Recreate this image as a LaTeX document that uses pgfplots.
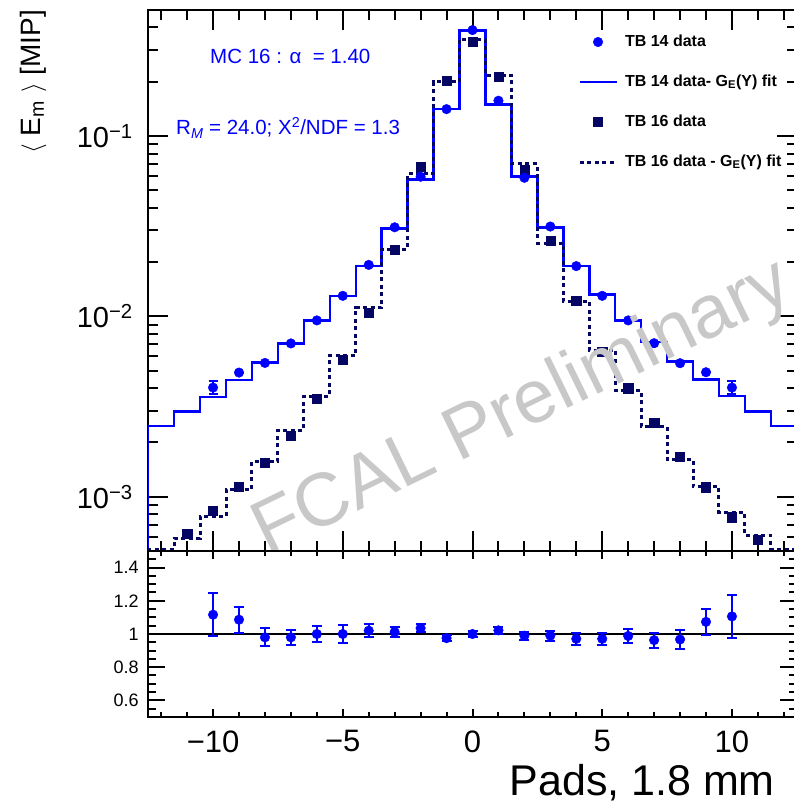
\documentclass[border=0pt]{standalone}
\usepackage{pgfplots}
\pgfplotsset{compat=1.18}
\usepackage{fontspec}
\setmainfont{Liberation Sans}
\definecolor{rblue}{RGB}{0,0,255}
\definecolor{rnavy}{RGB}{5,5,100}
\definecolor{wm}{RGB}{200,200,200}
\pgfplotsset{
  legline/.style={legend image code/.code={\path[draw=none,fill=none] (0pt,0pt) -- (37pt,0pt); \draw[##1] (0pt,0pt) -- (37pt,0pt);}},
  legmark/.style={legend image code/.code={\path[draw=none,fill=none] (0pt,0pt) -- (37pt,0pt); \draw[##1,only marks] plot coordinates {(18.5pt,0pt)};}},
}
\begin{document}
\begin{tikzpicture}
\useasboundingbox (0,0) rectangle (793pt,805pt);
% ---------------- upper panel ----------------
\begin{axis}[
  at={(148.2pt,254pt)}, anchor=south west,
  scale only axis, width=648.6pt, height=541pt,
  ymode=log, xmin=-12.5, xmax=12.5, ymin=5e-4, ymax=0.5,
  axis line style={line width=2pt},
  tick style={line width=2pt, black},
  tick align=inside,
  major tick length=20pt, minor tick length=10pt,
  xtick={-10,-5,0,5,10}, xticklabels={},
  minor xtick={-12,-11,-9,-8,-7,-6,-4,-3,-2,-1,1,2,3,4,6,7,8,9,11,12},
  ytick={1e-3,1e-2,1e-1},
  yticklabels={10\textsuperscript{−3},10\textsuperscript{−2},10\textsuperscript{−1}},
  minor ytick={6e-4,7e-4,8e-4,9e-4,2e-3,3e-3,4e-3,5e-3,6e-3,7e-3,8e-3,9e-3,0.02,0.03,0.04,0.05,0.06,0.07,0.08,0.09,0.2,0.3,0.4},
  yticklabel style={font=\fontsize{29}{31}\selectfont, xshift=-12pt},
  ylabel={$\langle$ E\textsubscript{m} $\rangle$ [MIP]},
  every axis y label/.style={at={(axis description cs:-0.1776,1)}, rotate=90, anchor=east, inner sep=0pt, font=\fontsize{28}{30}\selectfont},
  legend cell align=left,
  legend style={at={(0.6627,0.9593)}, anchor=north west, draw=none, fill=none, inner sep=0pt, outer sep=0pt,
    row sep=20pt, column sep=5pt, nodes={inner sep=2pt, text height=12pt, text depth=4pt},
    font=\fontsize{16}{18}\selectfont\bfseries},
]
\addlegendimage{rblue, mark=*, mark size=4.8pt, legmark}
\addlegendentry{TB 14 data}
\addlegendimage{rblue, line width=2.5pt, legline}
\addlegendentry{TB 14 data- G\textsubscript{E}(Y) fit}
\addlegendimage{rnavy, mark=square*, mark size=4.6pt, legmark}
\addlegendentry{TB 16 data}
\addlegendimage{rnavy, line width=3pt, dash pattern=on 4pt off 3.5pt, legline}
\addlegendentry{TB 16 data - G\textsubscript{E}(Y) fit}

% TB14 fit (bin left edges)
\addplot[const plot mark left, rblue, line width=2.5pt, forget plot] coordinates {
 (-12.5,1e-6) (-12.5,0.00247) (-11.5,0.00296) (-10.5,0.00358) (-9.5,0.00443) (-8.5,0.00556)
 (-7.5,0.00708) (-6.5,0.00946) (-5.5,0.0130) (-4.5,0.0190) (-3.5,0.0308) (-2.5,0.0575)
 (-1.5,0.141) (-0.5,0.385) (0.5,0.150) (1.5,0.0595) (2.5,0.0312) (3.5,0.0190)
 (4.5,0.0132) (5.5,0.0095) (6.5,0.00723) (7.5,0.00561) (8.5,0.00448) (9.5,0.00361)
 (10.5,0.00296) (11.5,0.00247) (12.5,0.00247) (12.5,1e-6)};
% TB16 fit
\addplot[const plot mark left, rnavy, line width=3pt, dash pattern=on 4pt off 3.5pt, forget plot] coordinates {
 (-12.5,1e-6) (-12.5,0.00051) (-11.5,0.000587) (-10.5,0.00078) (-9.5,0.0011) (-8.5,0.00156)
 (-7.5,0.00234) (-6.5,0.00361) (-5.5,0.0061) (-4.5,0.0112) (-3.5,0.0235) (-2.5,0.0621)
 (-1.5,0.200) (-0.5,0.344) (0.5,0.218) (1.5,0.070) (2.5,0.0255) (3.5,0.0121)
 (4.5,0.0065) (5.5,0.0039) (6.5,0.00244) (7.5,0.00161) (8.5,0.00114) (9.5,0.00082)
 (10.5,0.00061) (11.5,0.00051) (12.5,0.00051) (12.5,1e-6)};
% TB16 data
\addplot[only marks, mark=square*, mark size=4.6pt, color=rnavy, forget plot] coordinates {
 (-11,0.000626) (-10,0.00084) (-9,0.00114) (-8,0.00154) (-7,0.00217) (-6,0.00348)
 (-5,0.00573) (-4,0.0105) (-3,0.0235) (-2,0.0676) (-1,0.203) (0,0.333) (1,0.213)
 (2,0.0654) (3,0.0262) (4,0.0122) (5,0.0064) (6,0.0040) (7,0.00257) (8,0.00167)
 (9,0.00113) (10,0.00077) (11,0.00058)};
% TB14 data
\addplot[only marks, mark=*, mark size=4.8pt, color=rblue, forget plot,
  error bars/.cd, y dir=both, y explicit,
  error bar style={line width=2pt, rblue},
  error mark options={rotate=90, mark size=4.5pt, line width=2pt, rblue}] coordinates {
 (-10,0.00403) +- (0,0.00034) (-9,0.00488) +- (0,0) (-8,0.00552) +- (0,0) (-7,0.00708) +- (0,0)
 (-6,0.0095) +- (0,0) (-5,0.0130) +- (0,0) (-4,0.0193) +- (0,0) (-3,0.0312) +- (0,0)
 (-2,0.0595) +- (0,0) (-1,0.141) +- (0,0) (0,0.387) +- (0,0) (1,0.157) +- (0,0)
 (2,0.0587) +- (0,0) (3,0.0315) +- (0,0) (4,0.0190) +- (0,0) (5,0.0130) +- (0,0)
 (6,0.0095) +- (0,0) (7,0.0071) +- (0,0) (8,0.0055) +- (0,0) (9,0.0049) +- (0,0)
 (10,0.00403) +- (0,0.00034)};

\node[anchor=base west, inner sep=0pt, text=rblue, font=\fontsize{20.5}{22}\selectfont] at (rel axis cs:0.0953,0.9015) {MC 16 : α~ = 1.40};
\node[anchor=base west, inner sep=0pt, text=rblue, font=\fontsize{20.5}{22}\selectfont] at (rel axis cs:0.0429,0.769) {R\textsubscript{\textit{M}} = 24.0; Χ\textsuperscript{2}/NDF = 1.3};
\end{axis}
% watermark
\begin{scope}
\clip (148.2pt,254pt) rectangle (793pt,795pt);
\node[rotate=26, text=wm, font=\fontsize{75}{77}\selectfont, inner sep=0pt] at (523pt,396pt) {FCAL Preliminary};
\end{scope}
% ---------------- lower panel: x ticks ----------------
\begin{axis}[
  at={(148.2pt,88pt)}, anchor=south west,
  scale only axis, width=648.6pt, height=166pt,
  xmin=-12.5, xmax=12.5, ymin=0.5, ymax=1.5,
  axis line style={line width=2pt},
  tick style={line width=2pt, black},
  tick align=inside,
  major tick length=8pt, minor tick length=5pt,
  xtick={-10,-5,0,5,10}, xticklabels={−10,−5,0,5,10},
  minor xtick={-12,-11,-9,-8,-7,-6,-4,-3,-2,-1,1,2,3,4,6,7,8,9,11,12},
  xticklabel style={font=\fontsize{31}{33}\selectfont, yshift=-10pt},
  ytick=\empty,
  xlabel={Pads, 1.8 mm},
  every axis x label/.style={at={(axis description cs:0.9664,-0.47)}, anchor=base east, inner sep=0pt, font=\fontsize{43}{45}\selectfont},
]
\end{axis}
% ---------------- lower panel: y ticks and ratio ----------------
\begin{axis}[
  at={(148.2pt,88pt)}, anchor=south west,
  scale only axis, width=648.6pt, height=166pt,
  xmin=-12.5, xmax=12.5, ymin=0.5, ymax=1.5,
  axis line style={line width=2pt},
  tick style={line width=2pt, black},
  tick align=inside,
  major tick length=17pt, minor tick length=8pt,
  xtick=\empty,
  ytick={0.6,0.8,1,1.2,1.4}, yticklabels={0.6,0.8,1,1.2,1.4},
  minor ytick={0.55,0.65,0.7,0.75,0.85,0.9,0.95,1.05,1.1,1.15,1.25,1.3,1.35,1.45},
  yticklabel style={font=\fontsize{18}{20}\selectfont, xshift=-6pt},
]
\addplot[black, line width=2pt] coordinates {(-12.5,1) (12.5,1)};
\addplot[only marks, mark=*, mark size=4.8pt, color=rblue,
  error bars/.cd, y dir=both, y explicit,
  error bar style={line width=2pt, rblue},
  error mark options={rotate=90, mark size=5pt, line width=2pt, rblue}] coordinates {
 (-10,1.116) +- (0,0.13) (-9,1.086) +- (0,0.078) (-8,0.980) +- (0,0.055) (-7,0.980) +- (0,0.047)
 (-6,1.0) +- (0,0.046) (-5,1.0) +- (0,0.052) (-4,1.02) +- (0,0.04) (-3,1.012) +- (0,0.03)
 (-2,1.035) +- (0,0.025) (-1,0.975) +- (0,0.02) (0,1.0) +- (0,0.02) (1,1.022) +- (0,0.022)
 (2,0.99) +- (0,0.025) (3,0.99) +- (0,0.03) (4,0.971) +- (0,0.036) (5,0.971) +- (0,0.037)
 (6,0.988) +- (0,0.045) (7,0.963) +- (0,0.046) (8,0.967) +- (0,0.055) (9,1.073) +- (0,0.077)
 (10,1.106) +- (0,0.128)};
\end{axis}
\end{tikzpicture}
\end{document}
